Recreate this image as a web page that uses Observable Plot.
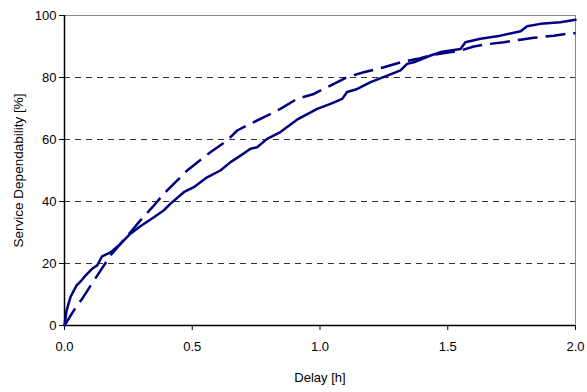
<!DOCTYPE html>
<html>
<head>
<meta charset="utf-8">
<script src="https://cdn.jsdelivr.net/npm/d3@7"></script>
<script src="https://cdn.jsdelivr.net/npm/@observablehq/plot@0.6"></script>
<style>
  html, body { margin: 0; padding: 0; background: #fff; }
  #chart svg { display: block; }
</style>
</head>
<body>
<div id="chart"></div>
<script>
// Service dependability as a function of the tolerated delay (hours)
const solidDelay = [0, 0.008, 0.023, 0.047, 0.063, 0.082, 0.108, 0.128, 0.147, 0.18, 0.219, 0.258, 0.297, 0.35, 0.388, 0.415, 0.467, 0.506, 0.558, 0.61, 0.65, 0.689, 0.728, 0.754, 0.793, 0.845, 0.91, 0.989, 1.041, 1.087, 1.106, 1.146, 1.198, 1.263, 1.315, 1.341, 1.367, 1.433, 1.472, 1.55, 1.569, 1.628, 1.706, 1.785, 1.811, 1.863, 1.941, 2.0];
const solidValue = [0, 4.8, 9.1, 12.9, 14.2, 16.1, 18.3, 19.4, 22.3, 23.6, 26.3, 29.6, 32, 34.9, 37.1, 39.3, 43, 44.6, 47.8, 50, 52.7, 54.8, 57, 57.5, 60.2, 62.4, 66.4, 69.9, 71.5, 73.1, 75.3, 76.3, 78.5, 80.6, 82.3, 84.4, 84.9, 87.1, 88.2, 89.2, 91.4, 92.5, 93.5, 94.9, 96.5, 97.3, 97.8, 98.6];

const dashDelay = [0, 0.036, 0.069, 0.108, 0.141, 0.18, 0.258, 0.297, 0.35, 0.389, 0.48, 0.571, 0.637, 0.676, 0.728, 0.793, 0.845, 0.91, 0.976, 1.041, 1.106, 1.171, 1.25, 1.315, 1.393, 1.433, 1.55, 1.602, 1.641, 1.72, 1.785, 1.837, 1.915, 1.967, 2.0];
const dashValue = [0, 4.8, 8.6, 13.6, 17.7, 22.6, 30.1, 33.9, 38.7, 42.5, 50, 55.9, 59.7, 62.9, 65.1, 67.7, 69.9, 73.1, 74.7, 77.4, 80.1, 81.7, 83.3, 84.9, 86.2, 87.2, 88.7, 90, 90.6, 91.4, 92.2, 92.8, 93.5, 94.1, 94.3];

const xTicks = [0, 0.5, 1.0, 1.5, 2.0];
const yTicks = [0, 20, 40, 60, 80, 100];
const gridValues = [20, 40, 60, 80];
const xTitle = "Delay [h]";
const yTitle = "Service Dependability [%]";

const solid = solidDelay.map((d, i) => ({delay: d, value: solidValue[i]}));
const dashed = dashDelay.map((d, i) => ({delay: d, value: dashValue[i]}));

const navy = "#000080";

const chart = Plot.plot({
  width: 587,
  height: 392,
  marginLeft: 64,
  marginRight: 12,
  marginTop: 15,
  marginBottom: 67,
  style: {fontFamily: "'Liberation Sans', Arial, sans-serif", fontSize: "13px", background: "#fff", color: "#000"},
  x: {domain: [0, 2], ticks: xTicks, tickFormat: d3.format(".1f")},
  y: {domain: [0, 100], ticks: yTicks},
  marks: [
    Plot.ruleY(gridValues, {stroke: "#333", strokeWidth: 1, strokeDasharray: "6,5"}),
    Plot.ruleY([100], {stroke: "#888", strokeWidth: 1}),
    Plot.ruleX([2], {stroke: "#888", strokeWidth: 1}),
    Plot.axisX({ticks: xTicks, tickFormat: d3.format(".1f"), tickSize: 5, tickPadding: 11, label: null, stroke: "#000", strokeOpacity: 1}),
    Plot.axisY({ticks: yTicks, tickSize: 5, tickPadding: 3, label: null, stroke: "#000", strokeOpacity: 1}),
    Plot.ruleX([0], {stroke: "#000", strokeWidth: 1.5}),
    Plot.ruleY([0], {stroke: "#000", strokeWidth: 1.5}),
    Plot.line(dashed, {x: "delay", y: "value", stroke: navy, strokeWidth: 2.5, strokeDasharray: "20,8", strokeLinecap: "butt"}),
    Plot.line(solid, {x: "delay", y: "value", stroke: navy, strokeWidth: 2.5}),
    Plot.text([xTitle], {frameAnchor: "bottom", dy: 56, fontSize: 13, textAnchor: "middle"}),
    Plot.text([yTitle], {frameAnchor: "left", dx: -46, rotate: -90, fontSize: 13.5, textAnchor: "middle"})
  ]
});

document.getElementById("chart").appendChild(chart);
</script>
</body>
</html>
